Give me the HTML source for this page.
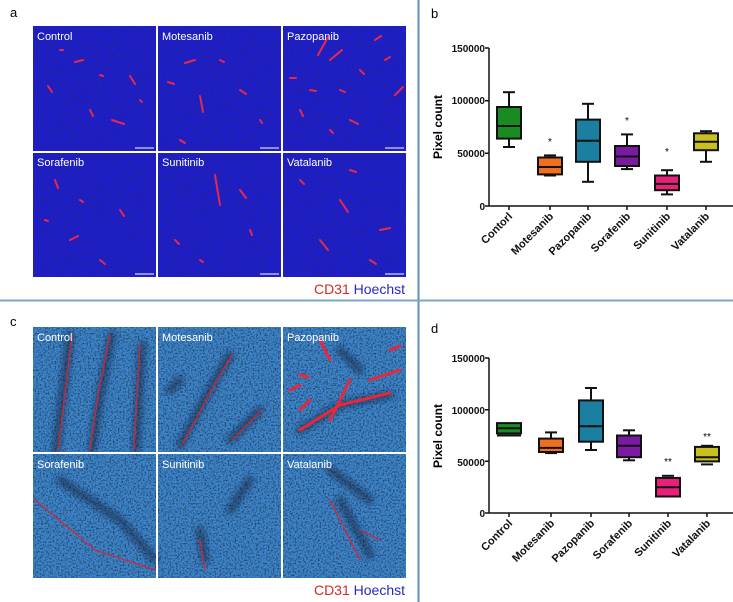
<!DOCTYPE html>
<html><head><meta charset="utf-8"><style>
html,body{margin:0;padding:0;background:#fff;}
svg{display:block;font-family:"Liberation Sans",Arial,sans-serif;}
</style></head><body>
<svg width="733" height="602" viewBox="0 0 733 602" xmlns="http://www.w3.org/2000/svg">
<defs>
<filter id="nA" x="0" y="0" width="100%" height="100%">
<feTurbulence type="fractalNoise" baseFrequency="0.8" numOctaves="2" seed="3" result="t"/>
<feColorMatrix in="t" type="matrix" values="0 0 0 0 0.02  0 0 0 0 0.02  0 0 0 0 0.1  0 0 0 -3.2 1.75"/>
<feComposite in2="SourceGraphic" operator="in"/>
</filter>
<filter id="nC" x="0" y="0" width="100%" height="100%">
<feTurbulence type="fractalNoise" baseFrequency="0.6" numOctaves="2" seed="7" result="t"/>
<feColorMatrix in="t" type="matrix" values="0 0 0 0 0.02  0 0 0 0 0.06  0 0 0 0 0.12  0 0 0 -3 1.7"/>
<feComposite in2="SourceGraphic" operator="in"/>
</filter>
<filter id="bl"><feGaussianBlur stdDeviation="3"/></filter>
<clipPath id="cc"><rect x="33" y="327" width="373" height="251"/></clipPath>
</defs>
<rect width="733" height="602" fill="#fff"/>
<line x1="418.5" y1="0" x2="418.5" y2="602" stroke="#5a8fc0" stroke-width="2"/>
<line x1="0" y1="300.5" x2="733" y2="300.5" stroke="#7aa6cc" stroke-width="2"/>
<!-- Panel a -->
<text x="10" y="17" font-size="13">a</text>
<rect x="33" y="26" width="373" height="251" fill="#1c1ce0"/>
<rect x="33" y="26" width="373" height="251" fill="#fff" filter="url(#nA)"/>
<g stroke="#e82848" stroke-width="2" stroke-linecap="round" fill="none">
<path d="M75 62l8 -2M112 120l12 4M48 86l4 6M90 110l3 6M130 76l5 8M60 50l3 0M140 100l2 2M100 75l3 1M200 96l3 16M185 63l10 -3M168 82l6 2M240 90l6 4M220 60l4 2M260 120l2 3M180 140l5 3M318 55l10 -18M330 60l12 -10M290 78l6 0M395 95l8 -8M350 120l8 4M300 110l3 6M375 40l6 -4M340 90l5 2M310 90l6 1M360 70l4 4M385 60l5 -3M330 130l3 3"/>
<path d="M70 240l8 -4M120 210l4 6M55 180l3 8M100 260l5 4M80 200l3 2M45 220l3 1M215 175l5 30M240 190l6 8M175 240l4 4M250 230l2 5M200 260l3 2M340 200l8 12M320 240l8 10M380 230l10 -2M300 180l4 4M370 260l6 4M350 170l6 2"/>
</g>
<g fill="#fff" font-size="11">
<text x="37" y="40">Control</text><text x="162" y="40">Motesanib</text><text x="287" y="40">Pazopanib</text>
<text x="37" y="166">Sorafenib</text><text x="162" y="166">Sunitinib</text><text x="287" y="166">Vatalanib</text>
</g>
<g stroke="#fff" stroke-width="1"><line x1="135" y1="148" x2="154" y2="148"/><line x1="260" y1="148" x2="279" y2="148"/><line x1="385" y1="148" x2="404" y2="148"/><line x1="135" y1="274" x2="154" y2="274"/><line x1="260" y1="274" x2="279" y2="274"/><line x1="385" y1="274" x2="404" y2="274"/></g>
<rect x="156" y="26" width="2" height="251" fill="#fff"/><rect x="281" y="26" width="2" height="251" fill="#fff"/>
<rect x="33" y="151" width="373" height="2" fill="#fff"/>
<text x="405" y="294" font-size="14" text-anchor="end"><tspan fill="#d42828">CD31</tspan><tspan fill="#2828c0"> Hoechst</tspan></text>
<!-- Panel c -->
<text x="10" y="326" font-size="13">c</text>
<rect x="33" y="327" width="373" height="251" fill="#3c86d0"/>
<rect x="33" y="327" width="373" height="251" fill="#fff" filter="url(#nC)"/>
<g clip-path="url(#cc)">
<g stroke="#081020" stroke-width="8" stroke-linecap="round" fill="none" opacity="0.45" filter="url(#bl)">
<path d="M70 335l-6 50l-8 65M112 335l-12 60l-8 55M142 345l-6 105M180 445l35 -65l15 -25M230 440l30 -30M60 480l60 40l35 40M300 430l40 -25l50 -10M340 350l20 20M200 530l5 30M340 500l30 55M180 380l-10 10M330 470l40 30M250 480l-20 30"/>
</g>
<g stroke="#d02838" stroke-width="1.5" stroke-linecap="round" fill="none" opacity="0.85">
<path d="M72 335l-6 50l-8 65M110 335l-12 60l-8 55M140 345l-6 105M182 445l35 -65l15 -25M232 440l30 -30M35 500l60 50l60 20M200 540l5 30M330 500l30 60M380 540l-20 -10"/>
</g>
<g stroke="#e82838" stroke-width="3" stroke-linecap="round" fill="none">
<path d="M300 430l40 -25l50 -12M330 420l20 -40M310 400l-10 10M370 380l30 -10M290 390l10 -5M320 340l10 20M300 375l8 2M390 350l10 -4"/>
</g>
</g>
<g fill="#fff" font-size="11">
<text x="37" y="341">Control</text><text x="162" y="341">Motesanib</text><text x="287" y="341">Pazopanib</text>
<text x="37" y="468">Sorafenib</text><text x="162" y="468">Sunitinib</text><text x="287" y="468">Vatalanib</text>
</g>
<rect x="156" y="327" width="2" height="251" fill="#fff"/><rect x="281" y="327" width="2" height="251" fill="#fff"/>
<rect x="33" y="452" width="373" height="2" fill="#fff"/>
<text x="405" y="595" font-size="14" text-anchor="end"><tspan fill="#d42828">CD31</tspan><tspan fill="#2828c0"> Hoechst</tspan></text>
<!-- Panel b -->
<text x="431" y="18" font-size="13">b</text>
<g font-size="10" font-weight="bold" text-anchor="end" fill="#111">
<text x="485" y="52">150000</text><text x="485" y="104">100000</text><text x="485" y="157">50000</text><text x="485" y="210">0</text>
</g>
<text transform="translate(442,127) rotate(-90)" font-size="12" font-weight="bold" text-anchor="middle">Pixel count</text>
<g stroke="#111" stroke-width="1.5" fill="none">
<path d="M489 48V206H733M485 48H489M485 100.7H489M485 153.3H489M485 206H489"/>
<path d="M509 206v4M550 206v4M588 206v4M627 206v4M667 206v4M706 206v4"/>
</g>
<g stroke="#111" stroke-width="2">
<line x1="509" y1="147" x2="509" y2="92.2"/><line x1="503" y1="92.2" x2="515" y2="92.2"/><line x1="503" y1="147" x2="515" y2="147"/>
<rect x="497" y="107" width="24" height="31.6" fill="#1a8a22"/><line x1="497" y1="126" x2="521" y2="126"/>
<line x1="550" y1="155.4" x2="550" y2="175.5"/><line x1="544" y1="155.4" x2="556" y2="155.4"/><line x1="544" y1="175.5" x2="556" y2="175.5"/>
<rect x="538" y="157.5" width="24" height="16.9" fill="#f07020"/><line x1="538" y1="167" x2="562" y2="167"/>
<line x1="588" y1="103.8" x2="588" y2="181.8"/><line x1="582" y1="103.8" x2="594" y2="103.8"/><line x1="582" y1="181.8" x2="594" y2="181.8"/>
<rect x="576" y="119.6" width="24" height="42.2" fill="#1a7fa0"/><line x1="576" y1="140.7" x2="600" y2="140.7"/>
<line x1="627" y1="134.4" x2="627" y2="169.1"/><line x1="621" y1="134.4" x2="633" y2="134.4"/><line x1="621" y1="169.1" x2="633" y2="169.1"/>
<rect x="615" y="146" width="24" height="20" fill="#7a1aa0"/><line x1="615" y1="156.5" x2="639" y2="156.5"/>
<line x1="667" y1="170.2" x2="667" y2="194.4"/><line x1="661" y1="170.2" x2="673" y2="170.2"/><line x1="661" y1="194.4" x2="673" y2="194.4"/>
<rect x="655" y="175.5" width="24" height="14.7" fill="#e8207a"/><line x1="655" y1="183.9" x2="679" y2="183.9"/>
<line x1="706" y1="131.2" x2="706" y2="161.8"/><line x1="700" y1="131.2" x2="712" y2="131.2"/><line x1="700" y1="161.8" x2="712" y2="161.8"/>
<rect x="694" y="133.3" width="24" height="16.9" fill="#c8c020"/><line x1="694" y1="141.7" x2="718" y2="141.7"/>
</g>
<g font-size="10" text-anchor="middle"><text x="550" y="145">*</text><text x="627" y="124">*</text><text x="667" y="155">*</text></g>
<g font-size="11" font-weight="bold" text-anchor="end" fill="#111">
<text transform="translate(513,217) rotate(-45)">Contorl</text>
<text transform="translate(554,217) rotate(-45)">Motesanib</text>
<text transform="translate(592,217) rotate(-45)">Pazopanib</text>
<text transform="translate(631,217) rotate(-45)">Sorafenib</text>
<text transform="translate(671,217) rotate(-45)">Sunitinib</text>
<text transform="translate(710,217) rotate(-45)">Vatalanib</text>
</g>
<!-- Panel d -->
<text x="431" y="333" font-size="13">d</text>
<g font-size="10" font-weight="bold" text-anchor="end" fill="#111">
<text x="485" y="362">150000</text><text x="485" y="414">100000</text><text x="485" y="466">50000</text><text x="485" y="517">0</text>
</g>
<text transform="translate(442,436) rotate(-90)" font-size="12" font-weight="bold" text-anchor="middle">Pixel count</text>
<g stroke="#111" stroke-width="1.5" fill="none">
<path d="M489 358V513H733M485 358H489M485 409.7H489M485 461.3H489M485 513H489"/>
<path d="M509 513v4M551 513v4M591 513v4M629 513v4M668 513v4M707 513v4"/>
</g>
<g stroke="#111" stroke-width="2">
<line x1="497" y1="435.5" x2="521" y2="435.5"/>
<rect x="497" y="423.1" width="24" height="10.3" fill="#1a8a22"/><line x1="497" y1="428.3" x2="521" y2="428.3"/>
<line x1="551" y1="432.4" x2="551" y2="453.1"/><line x1="545" y1="432.4" x2="557" y2="432.4"/><line x1="545" y1="453.1" x2="557" y2="453.1"/>
<rect x="539" y="438.6" width="24" height="13.4" fill="#f07020"/><line x1="539" y1="447.9" x2="563" y2="447.9"/>
<line x1="591" y1="388" x2="591" y2="450"/><line x1="585" y1="388" x2="597" y2="388"/><line x1="585" y1="450" x2="597" y2="450"/>
<rect x="579" y="400.4" width="24" height="41.3" fill="#1a7fa0"/><line x1="579" y1="426.2" x2="603" y2="426.2"/>
<line x1="629" y1="430.3" x2="629" y2="460.3"/><line x1="623" y1="430.3" x2="635" y2="430.3"/><line x1="623" y1="460.3" x2="635" y2="460.3"/>
<rect x="617" y="435.5" width="24" height="21.7" fill="#7a1aa0"/><line x1="617" y1="445.8" x2="641" y2="445.8"/>
<line x1="662" y1="475.8" x2="674" y2="475.8"/>
<rect x="656" y="477.9" width="24" height="18.6" fill="#e8207a"/><line x1="656" y1="487.2" x2="680" y2="487.2"/>
<line x1="701" y1="445.8" x2="713" y2="445.8"/><line x1="701" y1="464.4" x2="713" y2="464.4"/>
<rect x="695" y="446.9" width="24" height="14.5" fill="#c8c020"/><line x1="695" y1="457.2" x2="719" y2="457.2"/>
</g>
<g font-size="10" text-anchor="middle"><text x="668" y="465">**</text><text x="707" y="440">**</text></g>
<g font-size="11" font-weight="bold" text-anchor="end" fill="#111">
<text transform="translate(513,524) rotate(-45)">Control</text>
<text transform="translate(555,524) rotate(-45)">Motesanib</text>
<text transform="translate(595,524) rotate(-45)">Pazopanib</text>
<text transform="translate(633,524) rotate(-45)">Sorafenib</text>
<text transform="translate(672,524) rotate(-45)">Sunitinib</text>
<text transform="translate(711,524) rotate(-45)">Vatalanib</text>
</g>
</svg>
</body></html>
